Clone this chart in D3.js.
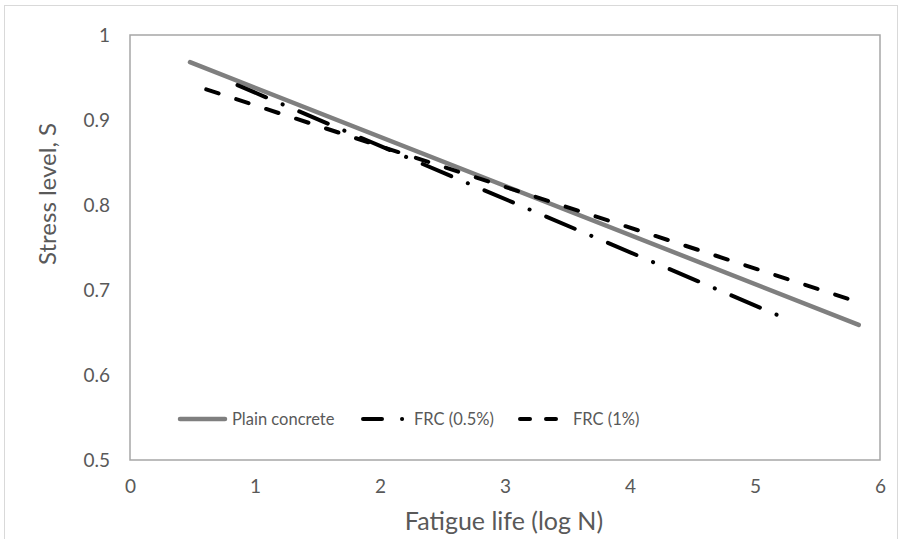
<!DOCTYPE html>
<html>
<head>
<meta charset="utf-8">
<script src="https://cdn.jsdelivr.net/npm/d3@7"></script>
<style>
  body { margin: 0; background: #fff; }
  text { font-family: Lato, "Open Sans", sans-serif; fill: #595959; }
</style>
</head>
<body>
<div id="chart"></div>
<script>
// series data (two ends of each fitted line)
var plainX = [0.48, 5.83],  plainY = [0.968, 0.659];
var frc05X = [0.86, 5.22],  frc05Y = [0.941, 0.668];
var frc1X  = [0.61, 5.82],  frc1Y  = [0.936, 0.686];
var xTicks = [0, 1, 2, 3, 4, 5, 6];
var yTicks = [0.5, 0.6, 0.7, 0.8, 0.9, 1];
var seriesNames = ["Plain concrete", "FRC (0.5%)", "FRC (1%)"];

var W = 900, H = 539;
var margin = {top: 35, right: 20, bottom: 79, left: 130},
  width = 880 - margin.left,
  height = 460 - margin.top;

var svg = d3.select("#chart").append("svg")
  .attr("width", W).attr("height", H);

// faint outer frame
svg.append("rect")
  .attr("x", 4.5).attr("y", 5.5).attr("width", W - 7).attr("height", H - 4)
  .attr("fill", "none").attr("stroke", "#d9d9d9");

var g = svg.append("g")
  .attr("transform", "translate(" + margin.left + "," + margin.top + ")");

var x = d3.scaleLinear().domain([0, 6]).range([0, width]);
var y = d3.scaleLinear().domain([0.5, 1]).range([height, 0]);

// plot box
g.append("rect")
  .attr("width", width).attr("height", height)
  .attr("fill", "none").attr("stroke", "#a6a6a6").attr("stroke-width", 1.5);

var xAxis = g.append("g")
  .attr("transform", "translate(0," + height + ")")
  .call(d3.axisBottom(x).tickValues(xTicks).tickSize(0).tickPadding(20).tickFormat(d3.format("d")));
var yAxis = g.append("g")
  .call(d3.axisLeft(y).tickValues(yTicks).tickSize(0).tickPadding(20).tickFormat(function(d) { return d === 1 ? "1" : d3.format(".1f")(d); }));
[xAxis, yAxis].forEach(function(a) {
  a.select(".domain").remove();
  a.selectAll("text").attr("font-size", "19px").attr("fill", "#595959")
    .style("font-family", "Lato, sans-serif");
});

// axis titles
svg.append("text")
  .attr("x", 504).attr("y", 530)
  .attr("text-anchor", "middle").attr("font-size", "25px")
  .text("Fatigue life (log N)");
svg.append("text")
  .attr("transform", "translate(56,194) rotate(-90)")
  .attr("text-anchor", "middle").attr("font-size", "24px")
  .text("Stress level, S");

var line = d3.line().x(function(d) { return x(d[0]); }).y(function(d) { return y(d[1]); });

var series = [
  {pts: d3.zip(plainX, plainY), color: "#7f7f7f", w: 4.5, dash: null, cap: "round"},
  {pts: d3.zip(frc05X, frc05Y), color: "#000", w: 4, dash: "31,18,0.1,18", cap: "round"},
  {pts: d3.zip(frc1X, frc1Y), color: "#000", w: 4, dash: "13,18.5", cap: "round"}
];

g.selectAll("path.series")
  .data(series)
  .enter().append("path")
    .attr("class", "series")
    .attr("d", function(d) { return line(d.pts); })
    .attr("fill", "none")
    .attr("stroke", function(d) { return d.color; })
    .attr("stroke-width", function(d) { return d.w; })
    .attr("stroke-dasharray", function(d) { return d.dash; })
    .attr("stroke-linecap", function(d) { return d.cap; });

// legend (shorter dashes, as in the reference key)
var legX = [178, 361, 518];
var legDash = [null, "19,20,0.1,20", "10,16"];
var leg = svg.selectAll("g.leg")
  .data(series)
  .enter().append("g")
    .attr("class", "leg")
    .attr("transform", function(d, i) { return "translate(" + legX[i] + ",419)"; });
leg.append("line")
  .attr("x1", 2)
  .attr("x2", function(d, i) { return i === 0 ? 47 : 45; })
  .attr("stroke", function(d) { return d.color; })
  .attr("stroke-width", function(d) { return d.w; })
  .attr("stroke-dasharray", function(d, i) { return legDash[i]; })
  .attr("stroke-linecap", function(d) { return d.cap; });
leg.append("text")
  .attr("x", function(d, i) { return [54, 53, 55][i]; })
  .attr("y", 6)
  .attr("font-size", "16.5px")
  .text(function(d, i) { return seriesNames[i]; });
</script>
</body>
</html>
